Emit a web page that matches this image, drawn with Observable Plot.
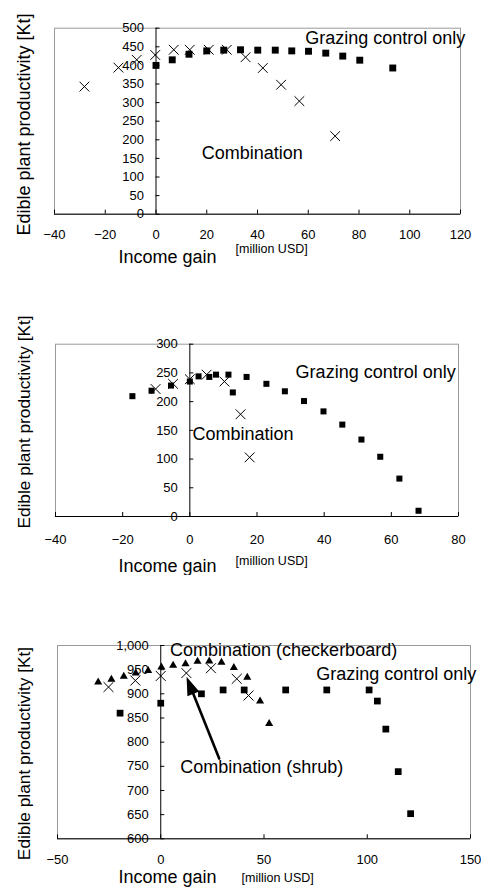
<!DOCTYPE html>
<html>
<head>
<meta charset="utf-8">
<script src="https://cdn.jsdelivr.net/npm/d3@7"></script>
<script src="https://cdn.jsdelivr.net/npm/@observablehq/plot@0.6"></script>
<style>
  body { margin: 0; background: #fff; }
  #root { position: relative; width: 481px; height: 887px; overflow: hidden; background: #fff; }
  .panel { position: absolute; left: 0; }
</style>
</head>
<body>
<div id="root"></div>
<script>
const FONT = '"Liberation Sans", Arial, Helvetica, sans-serif';

// ---------- Panel 1 ----------
const p1XTicks = [-40, -20, 0, 20, 40, 60, 80, 100, 120];
const p1YTicks = [0, 50, 100, 150, 200, 250, 300, 350, 400, 450, 500];
const p1GrazingX = [0, 6.4, 13, 20, 26.7, 33.3, 40.1, 47, 53.5, 60.1, 66.9, 73.6, 80.3, 93.3];
const p1GrazingY = [400, 415, 430, 439, 441, 442, 441, 441, 439, 438, 433, 425, 414, 393];
const p1CombX = [-28.2, -14.8, -7.6, -0.3, 7, 13.3, 20.8, 27.9, 35.3, 42.1, 49.3, 56.5, 70.6];
const p1CombY = [343, 394, 415, 428, 442, 442, 442, 442, 422, 393, 348, 304, 210];

// ---------- Panel 2 ----------
const p2XTicks = [-40, -20, 0, 20, 40, 60, 80];
const p2YTicks = [0, 50, 100, 150, 200, 250, 300];
const p2GrazingX = [-17.1, -11.4, -5.6, 0, 2.6, 5.8, 7.8, 11.5, 12.8, 16.9, 22.8, 28.3, 34, 39.8, 45.4, 51.1, 56.7, 62.4, 68.1];
const p2GrazingY = [209.5, 219, 228, 235, 244, 243, 247, 247, 216, 243, 231, 218, 201, 183, 160, 134, 104, 66, 10];
const p2CombX = [-10.2, -5, 0, 5, 10.3, 15.1, 17.8];
const p2CombY = [222, 231, 239, 247, 235, 178, 103];

// ---------- Panel 3 ----------
const p3XTicks = [-50, 0, 50, 100, 150];
const p3YTicks = [600, 650, 700, 750, 800, 850, 900, 950, 1000];
const p3GrazingX = [-19.7, 0, 19.7, 30.2, 40.4, 60.5, 80.4, 100.9, 104.9, 109, 115, 121];
const p3GrazingY = [860, 880.6, 900, 908, 908, 908, 908, 908, 885, 827, 739, 652];
const p3CheckerX = [-30.3, -23.9, -17.9, -12.1, -6.1, 0.3, 6, 12, 17.8, 23.5, 29.4, 35.4, 41.9, 48.1, 52.5];
const p3CheckerY = [924, 930, 936, 943, 948, 955, 958.6, 962, 967, 967.5, 965, 954, 934, 885, 838];
const p3ShrubX = [-25.3, -12.3, 0, 12.4, 24.3, 36.8, 42.5];
const p3ShrubY = [914, 927.5, 937, 943, 953, 931, 896.5];

const yTitle = "Edible plant productivity [Kt]";
const xTitle = "Income gain";
const xUnit = "[million USD]";

const fmt = d3.format(",");
const pts = (xs, ys) => xs.map((x, i) => ({x, y: ys[i]}));

function panel(cfg) {
  const width = 481;
  const {top, height, mT, mB, mL, mR, xDomain, yDomain, xTicks, yTicks} = cfg;
  const innerW = width - mL - mR;
  const innerH = height - mT - mB;
  const kx = innerW / (xDomain[1] - xDomain[0]);
  const ky = innerH / (yDomain[1] - yDomain[0]);
  const zeroPx = (0 - xDomain[0]) * kx;
  const y0 = yDomain[0];
  const at = (px, py) => ({frameAnchor: "top-left", dx: px - mL, dy: py - top - mT});

  const marks = [
    Plot.frame({stroke: "#9a9a9a"}),
    Plot.ruleX(xTicks, {x: d => d, stroke: "black", insetTop: innerH - 4}),
    Plot.ruleY(yTicks, {y: d => d, x1: 0, x2: xDomain[1], stroke: "black", insetRight: innerW - zeroPx - 4}),
    Plot.ruleY([y0], {stroke: "black"}),
    Plot.ruleX([0], {stroke: "black"}),
    Plot.text(xTicks, {x: d => d, y: y0, dy: cfg.xTickDy, text: fmt, fontSize: 13, lineAnchor: "middle"}),
    Plot.text(yTicks, {x: 0, y: d => d, dx: -12, textAnchor: "end", text: fmt, fontSize: 13, lineAnchor: "middle"})
  ];
  for (const s of cfg.series) {
    marks.push(Plot.dot(pts(s.xs, s.ys), {
      x: "x", y: "y", symbol: s.symbol, r: s.r,
      fill: s.symbol === "times" ? "none" : "black",
      stroke: s.symbol === "times" ? "black" : "none",
      strokeWidth: 1
    }));
  }
  for (const a of cfg.annotations) {
    marks.push(Plot.text([a], {x: "x", y: "y", text: "label", textAnchor: "start", lineAnchor: "middle", fontSize: 18}));
  }
  if (cfg.arrow) {
    const [[ax0, ay0], [ax1, ay1]] = cfg.arrow;
    const dxp = (ax1 - ax0) * kx, dyp = -(ay1 - ay0) * ky;
    const len = Math.hypot(dxp, dyp);
    const rot = Math.atan2(dxp, -dyp) * 180 / Math.PI;
    const head = 13, hw = 4.5;
    const shape = {
      draw(context, l) {
        context.moveTo(0, 0);
        context.lineTo(0, -(l - head + 2));
        context.moveTo(0, -l);
        context.lineTo(-hw, -l + head);
        context.lineTo(hw, -l + head);
        context.closePath();
      }
    };
    marks.push(Plot.vector([{x: ax0, y: ay0}], {x: "x", y: "y", anchor: "start", length: len, rotate: rot, shape, stroke: "black", fill: "black", strokeWidth: 2.6, strokeLinejoin: "miter"}));
  }
  // axis titles
  marks.push(Plot.text([xTitle], {...at(cfg.xTitlePos[0], cfg.xTitlePos[1]), text: d => d, textAnchor: "start", lineAnchor: "middle", fontSize: 18}));
  marks.push(Plot.text([xUnit], {...at(cfg.xUnitPos[0], cfg.xUnitPos[1]), text: d => d, textAnchor: "start", lineAnchor: "middle", fontSize: 12.5}));
  marks.push(Plot.text([yTitle], {...at(cfg.yTitlePos[0], cfg.yTitlePos[1]), text: d => d, rotate: -90, textAnchor: "middle", lineAnchor: "middle", fontSize: cfg.yTitleSize}));

  const svg = Plot.plot({
    width, height,
    marginTop: mT, marginBottom: mB, marginLeft: mL, marginRight: mR,
    x: {domain: xDomain, axis: null},
    y: {domain: yDomain, axis: null},
    style: {fontFamily: FONT, fontSize: "13px", color: "black", background: "white", overflow: "hidden"},
    marks
  });
  const div = document.createElement("div");
  div.className = "panel";
  div.style.top = top + "px";
  div.appendChild(svg);
  document.getElementById("root").appendChild(div);
}

panel({
  top: 0, height: 275, mT: 27.7, mB: 61.3, mL: 54, mR: 21,
  xDomain: [-40, 120], yDomain: [0, 500], xTicks: p1XTicks, yTicks: p1YTicks, xTickDy: 20.5,
  series: [
    {xs: p1GrazingX, ys: p1GrazingY, symbol: "square", r: 3.9},
    {xs: p1CombX, ys: p1CombY, symbol: "times", r: 4.5}
  ],
  annotations: [
    {label: "Grazing control only", x: 58.8, y: 473.7},
    {label: "Combination", x: 18, y: 163.7}
  ],
  xTitlePos: [118, 257], xUnitPos: [235, 248.5], yTitlePos: [23.5, 124], yTitleSize: 18
});

panel({
  top: 275, height: 300, mT: 68.7, mB: 59, mL: 55, mR: 23,
  xDomain: [-40, 80], yDomain: [0, 300], xTicks: p2XTicks, yTicks: p2YTicks, xTickDy: 23.5,
  series: [
    {xs: p2GrazingX, ys: p2GrazingY, symbol: "square", r: 3.4},
    {xs: p2CombX, ys: p2CombY, symbol: "times", r: 4.5}
  ],
  annotations: [
    {label: "Grazing control only", x: 31.5, y: 250.7},
    {label: "Combination", x: 0.8, y: 144}
  ],
  xTitlePos: [118, 566], xUnitPos: [235, 560], yTitlePos: [23.5, 421.5], yTitleSize: 17.3
});

panel({
  top: 575, height: 312, mT: 70, mB: 48.7, mL: 57, mR: 11,
  xDomain: [-50, 150], yDomain: [600, 1000], xTicks: p3XTicks, yTicks: p3YTicks, xTickDy: 21,
  series: [
    {xs: p3GrazingX, ys: p3GrazingY, symbol: "square", r: 3.8},
    {xs: p3CheckerX, ys: p3CheckerY, symbol: "triangle", r: 3},
    {xs: p3ShrubX, ys: p3ShrubY, symbol: "times", r: 4.6}
  ],
  annotations: [
    {label: "Combination (checkerboard)", x: 4.5, y: 990.6},
    {label: "Grazing control only", x: 75.3, y: 940},
    {label: "Combination (shrub)", x: 9.4, y: 748}
  ],
  arrow: [[28.3, 766], [13.2, 927.5]],
  xTitlePos: [118, 877], xUnitPos: [241, 877], yTitlePos: [23.5, 753], yTitleSize: 17.3
});
</script>
</body>
</html>
